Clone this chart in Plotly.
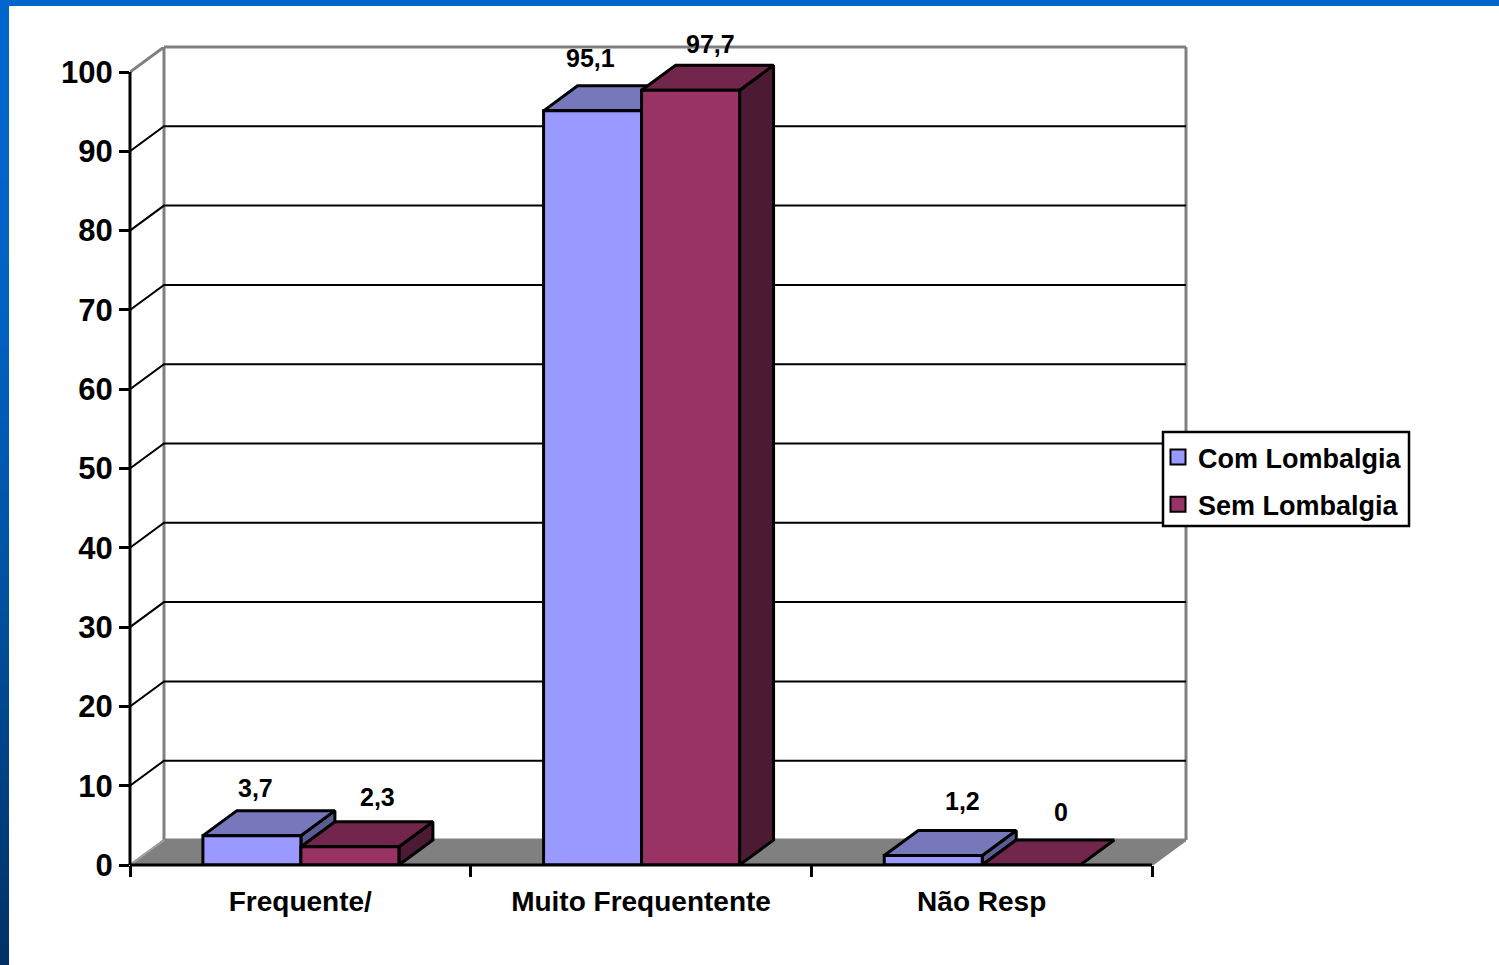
import plotly.graph_objects as go

# ---- data -------------------------------------------------------------
categories = ["Frequente/", "Muito Frequentente", "Não Resp"]
com_lombalgia = [3.7, 95.1, 1.2]
sem_lombalgia = [2.3, 97.7, 0]
com_labels = ["3,7", "95,1", "1,2"]
sem_labels = ["2,3", "97,7", "0"]
y_ticks = [0, 10, 20, 30, 40, 50, 60, 70, 80, 90, 100]

# ---- layout constants --------------------------------------------------
W, H = 1499, 965
LEFT, RIGHT_WALL, TOP_WALL, BASE = 130, 1186, 47, 865
CAT_PX = (1152 - 130) / 3
UNIT_PX = (864 - 71) / 100
DX = 34 / CAT_PX          # depth in x-axis units
DY = 25 / UNIT_PX         # depth in y-axis units
XMAX = 3 + DX
YMAX = 100 + DY
BAR_W = 98 / CAT_PX
BAR_START = 0.214
BLUE = dict(front="#9999FF", top="#7777BB", side="#5B5B94")
RED = dict(front="#993366", top="#72264C", side="#4D1A33")
GREY = "#808080"
FONT = "Liberation Sans"


def tr(xs, ys, color="black", width=3, fill=None, fillcolor=None):
    return go.Scatter(
        x=xs, y=ys, mode="lines", line=dict(color=color, width=width),
        fill=fill, fillcolor=fillcolor, cliponaxis=False,
        showlegend=False, hoverinfo="skip",
    )


fig = go.Figure()

# floor
fig.add_trace(tr([0, DX, XMAX, 3, 0], [0, DY, DY, 0, 0], color=GREY, width=2,
                 fill="toself", fillcolor=GREY))
# back wall
fig.add_trace(tr([0, DX, DX], [100, YMAX, DY], color=GREY, width=3))
fig.add_trace(tr([DX, XMAX], [DY, DY], color=GREY, width=3))
fig.add_trace(tr([0, DX], [0, DY], color="#A0A0A0", width=2))
# gridlines on walls
gx, gy = [], []
for v in y_ticks[1:-1]:
    gx += [0, DX, XMAX, None]
    gy += [v, v + DY, v + DY, None]
fig.add_trace(tr(gx, gy, width=2))


def bar_faces(i, offset, value, colors):
    x0 = i + BAR_START + offset * BAR_W
    x1 = x0 + BAR_W
    if value > 0:
        fig.add_trace(tr([x1, x1 + DX, x1 + DX, x1, x1],
                         [0, DY, value + DY, value, 0],
                         fill="toself", fillcolor=colors["side"]))
    fig.add_trace(tr([x0, x0 + DX, x1 + DX, x1, x0],
                     [value, value + DY, value + DY, value, value],
                     fill="toself", fillcolor=colors["top"]))
    if value > 0:
        fig.add_trace(tr([x0, x0, x1, x1, x0], [0, value, value, 0, 0],
                         fill="toself", fillcolor=colors["front"]))


for i in range(len(categories)):
    bar_faces(i, 0, com_lombalgia[i], BLUE)
    bar_faces(i, 1, sem_lombalgia[i], RED)

# legend entries
for name, c, grp in (("Com Lombalgia", BLUE["front"], "a"), ("Sem Lombalgia", RED["front"], "b")):
    fig.add_trace(go.Scatter(
        x=[None], y=[None], mode="markers", name=name, legendgroup=grp,
        marker=dict(symbol="square", size=15, color=c, line=dict(color="black", width=2)),
    ))

# data labels (pixel offsets relative to each bar's front-top centre)
com_shift = [(4, 48), (-2, 53), (29, 54)]
sem_shift = [(28, 50), (20, 46), (30, 53)]
annotations = []
for i in range(3):
    for off, vals, labs, shifts in ((0, com_lombalgia, com_labels, com_shift),
                                    (1, sem_lombalgia, sem_labels, sem_shift)):
        annotations.append(dict(
            x=i + BAR_START + (off + 0.5) * BAR_W, y=vals[i], xref="x", yref="y",
            text=labs[i], showarrow=False, xanchor="center", yanchor="middle",
            xshift=shifts[i][0], yshift=shifts[i][1],
            font=dict(family=FONT, size=25, color="black", weight="bold"),
        ))

# slide background strips (paper coordinates derived from pixels)
pw, ph = RIGHT_WALL - LEFT, BASE - TOP_WALL
px = lambda p: (p - LEFT) / pw
py = lambda p: (BASE - p) / ph
shapes = [dict(type="rect", xref="paper", yref="paper", x0=px(0), x1=px(W),
               y0=py(0), y1=py(6), fillcolor="#0066CC", line_width=0, layer="below")]
stops = [(0, (0, 102, 204)), (300, (0, 98, 196)), (600, (0, 80, 158)), (965, (0, 48, 100))]
for y in range(0, H, 12):
    for (a, ca), (b, cb) in zip(stops, stops[1:]):
        if a <= y < b:
            t = (y - a) / (b - a)
            c = [round(u + (v - u) * t) for u, v in zip(ca, cb)]
    shapes.append(dict(type="rect", xref="paper", yref="paper", x0=px(0), x1=px(9),
                       y0=py(y), y1=py(min(y + 12, H)),
                       fillcolor=f"rgb({c[0]},{c[1]},{c[2]})", line_width=0, layer="below"))

# frame lines on the plot edges: paper-referenced shapes are not clipped at the edge
def edge(x0, y0, x1, y1, color, width, layer):
    return dict(type="line", xref="paper", yref="paper",
                x0=x0 / XMAX, y0=y0 / YMAX, x1=x1 / XMAX, y1=y1 / YMAX,
                line=dict(color=color, width=width), layer=layer)

shapes += [
    edge(DX, YMAX, XMAX, YMAX, GREY, 3, "below"),
    edge(XMAX, DY, XMAX, YMAX, GREY, 3, "below"),
    edge(0, 0, 0, 100, "black", 3, "above"),
    edge(0, 0, 3, 0, "black", 3, "above"),
]
# legend frame, drawn over the gridlines; the legend's own entries sit on top
shapes.append(dict(type="rect", xref="paper", yref="paper", x0=px(1163), x1=px(1409),
                   y0=py(526), y1=py(432), fillcolor="white",
                   line=dict(color="black", width=2.5), layer="above"))

fig.update_layout(
    width=W, height=H, autosize=False,
    paper_bgcolor="white", plot_bgcolor="rgba(0,0,0,0)",
    margin=dict(l=LEFT, r=W - RIGHT_WALL, t=TOP_WALL, b=H - BASE, pad=0, autoexpand=False),
    shapes=shapes, annotations=annotations,
    legend=dict(
        xref="container", yref="container", x=1158 / W, y=1 - 433 / H,
        xanchor="left", yanchor="top", bgcolor="rgba(0,0,0,0)", borderwidth=0,
        itemwidth=30, tracegroupgap=9,
        font=dict(family=FONT, size=27, color="black", weight="bold"),
        itemclick=False, itemdoubleclick=False,
    ),
    xaxis=dict(
        range=[0, XMAX], showgrid=False, zeroline=False, showline=False,
        tickmode="array", tickvals=[0.5, 1.5, 2.5], ticktext=categories, ticks="",
        ticklabelstandoff=17,
        tickfont=dict(family=FONT, size=28, color="black", weight="bold"),
        minor=dict(tickmode="array", tickvals=[0, 1, 2, 3], ticks="outside",
                   ticklen=11, tickwidth=2.5, tickcolor="black", showgrid=False),
    ),
    yaxis=dict(
        range=[0, YMAX], showgrid=False, zeroline=False, showline=False,
        tickmode="array", tickvals=y_ticks, ticks="outside", ticklen=10,
        tickwidth=2.5, tickcolor="black",
        tickfont=dict(family=FONT, size=31, color="black", weight="bold"),
    ),
)

fig.write_html("out.html", config=dict(displayModeBar=False),
               post_script="document.body.style.margin='0';document.body.style.overflow='hidden';")
